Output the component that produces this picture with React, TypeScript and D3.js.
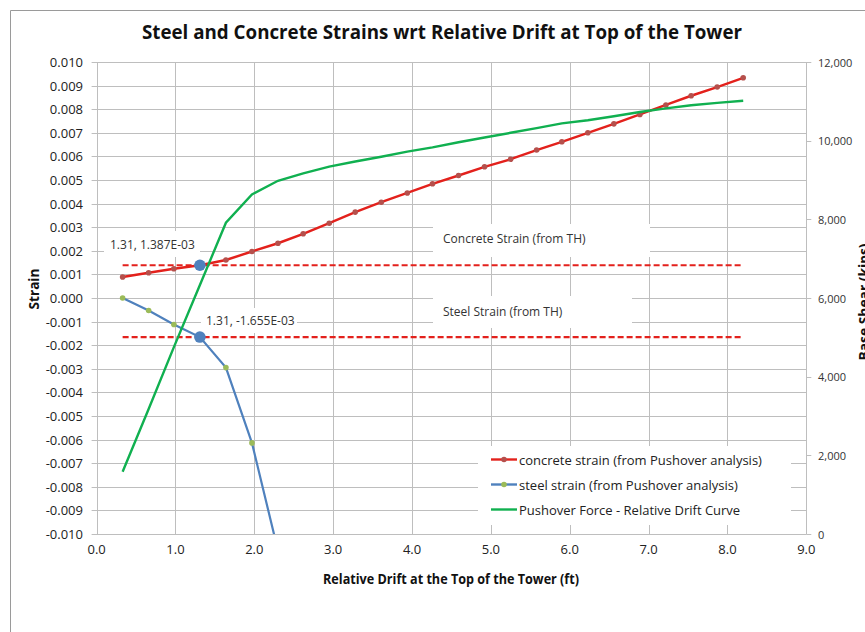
import React from 'react';
import * as d3 from 'd3';

// ---- data ----
const DRIFT = [0.33, 0.66, 0.98, 1.31, 1.64, 1.97, 2.30, 2.62, 2.95, 3.28, 3.61, 3.94, 4.26, 4.59, 4.92, 5.25, 5.58, 5.90, 6.23, 6.56, 6.89, 7.22, 7.54, 7.87, 8.20];
const CONCRETE_STRAIN = [0.00089, 0.00107, 0.00124, 0.001387, 0.00161, 0.00197, 0.00232, 0.00272, 0.00317, 0.00364, 0.00406, 0.00445, 0.00484, 0.00519, 0.00556, 0.00588, 0.00627, 0.00662, 0.00700, 0.00738, 0.00778, 0.00818, 0.00857, 0.00894, 0.00933];
const STEEL_DRIFT = [0.33, 0.66, 0.98, 1.31, 1.64, 1.97, 2.30];
const STEEL_STRAIN = [0.0, -0.00053, -0.00112, -0.001655, -0.00295, -0.00614, -0.0107];
const PUSHOVER_FORCE = [1584, 3180, 4750, 6330, 7914, 8635, 8981, 9170, 9340, 9470, 9590, 9720, 9830, 9960, 10080, 10200, 10320, 10440, 10520, 10620, 10730, 10820, 10900, 10960, 11015];
const TH_DRIFT = [0.33, 8.20];
const CONCRETE_TH = 0.001387;
const STEEL_TH = -0.001655;
const HIGHLIGHT_DRIFT = 1.31;
const X_TICKS = [0, 1, 2, 3, 4, 5, 6, 7, 8, 9];
const STRAIN_TICKS = [-0.010, -0.009, -0.008, -0.007, -0.006, -0.005, -0.004, -0.003, -0.002, -0.001, 0.000, 0.001, 0.002, 0.003, 0.004, 0.005, 0.006, 0.007, 0.008, 0.009, 0.010];
const SHEAR_TICKS = [0, 2000, 4000, 6000, 8000, 10000, 12000];
const LEGEND_LABELS = ['concrete strain (from Pushover analysis)', 'steel strain (from Pushover analysis)', 'Pushover Force - Relative Drift Curve'];

const FONT = "'Open Sans', 'Noto Sans', sans-serif";
const BOLD_FONT = "'Liberation Sans Narrow', 'Open Sans', sans-serif";

export default function App() {
  const W = 865, H = 632;
  const L = 96.6, R = 806.3, T = 62, B = 534;
  const x = d3.scaleLinear().domain([0, 9]).range([L, R]);
  const yL = d3.scaleLinear().domain([-0.01, 0.01]).range([B, T]);
  const yR = d3.scaleLinear().domain([0, 12000]).range([B, T]);

  const fmtStrain = (v: number) => (v < -1e-9 ? '-' : '') + Math.abs(v).toFixed(3);
  const fmtShear = d3.format(',');

  const lineL = d3.line<[number, number]>().x(d => x(d[0])).y(d => yL(d[1]));
  const lineR = d3.line<[number, number]>().x(d => x(d[0])).y(d => yR(d[1]));

  const concrete = DRIFT.map((d, i) => [d, CONCRETE_STRAIN[i]] as [number, number]);
  const steel = STEEL_DRIFT.map((d, i) => [d, STEEL_STRAIN[i]] as [number, number]);
  const push = DRIFT.map((d, i) => [d, PUSHOVER_FORCE[i]] as [number, number]);

  const grid = '#BEBEBE';
  const crisp = (v: number) => Math.round(v) + 0.5;

  const legendX = 478, legendY = 446;
  const legendColors = [
    { line: '#E3211C', marker: '#B5504C' },
    { line: '#4F81BD', marker: '#9BBB59' },
    { line: '#10B050', marker: null },
  ];

  return (
    <svg width={W} height={H} style={{ position: 'absolute', left: 0, top: 0, background: '#fff' }}>
      <defs>
        <clipPath id="plot">
          <rect x={L} y={T} width={R - L} height={B - T} />
        </clipPath>
      </defs>
      <rect x={0} y={0} width={W} height={H} fill="#fff" />
      {/* chart border */}
      <path d={`M10.5,${H} L10.5,10.5 L${W},10.5`} fill="none" stroke="#9A9A9A" strokeWidth={1} />

      {/* title */}
      <text x={442} y={32} textAnchor="middle" dominantBaseline="central" fontFamily={BOLD_FONT} fontWeight="bold" fontSize={19} textLength={600} lengthAdjust="spacingAndGlyphs" fill="#111">
        Steel and Concrete Strains wrt Relative Drift at Top of the Tower
      </text>

      {/* horizontal gridlines */}
      {STRAIN_TICKS.map((t, i) => (
        <line key={'hg' + i} x1={L - 5} x2={R} y1={crisp(yL(t))} y2={crisp(yL(t))} stroke={grid} strokeWidth={1} />
      ))}
      {/* vertical gridlines */}
      {X_TICKS.map((t, i) => (
        <line key={'vg' + i} x1={crisp(x(t))} x2={crisp(x(t))} y1={T} y2={B} stroke={grid} strokeWidth={1} />
      ))}
      {/* right axis ticks */}
      {SHEAR_TICKS.map((t, i) => (
        <line key={'rt' + i} x1={R} x2={R + 5} y1={crisp(yR(t))} y2={crisp(yR(t))} stroke={grid} strokeWidth={1} />
      ))}

      {/* left tick labels */}
      {STRAIN_TICKS.map((t, i) => (
        <text key={'lt' + i} x={83} y={yL(t)} textAnchor="end" dominantBaseline="central" fontFamily={FONT} fontSize={13} fill="#222">
          {fmtStrain(t)}
        </text>
      ))}
      {/* right tick labels */}
      {SHEAR_TICKS.map((t, i) => (
        <text key={'rl' + i} x={818} y={yR(t)} textAnchor="start" dominantBaseline="central" fontFamily={FONT} fontSize={11} fill="#333">
          {fmtShear(t)}
        </text>
      ))}
      {/* x tick labels */}
      {X_TICKS.map((t, i) => (
        <text key={'xl' + i} x={x(t)} y={549} textAnchor="middle" dominantBaseline="central" fontFamily={FONT} fontSize={13} fill="#222">
          {t.toFixed(1)}
        </text>
      ))}

      {/* axis titles */}
      <text x={451} y={578} textAnchor="middle" dominantBaseline="central" fontFamily={BOLD_FONT} fontWeight="bold" fontSize={14} textLength={256} lengthAdjust="spacingAndGlyphs" fill="#111">
        Relative Drift at the Top of the Tower (ft)
      </text>
      <text transform={`translate(33,289) rotate(-90)`} textAnchor="middle" dominantBaseline="central" fontFamily={BOLD_FONT} fontWeight="bold" fontSize={14} textLength={41} lengthAdjust="spacingAndGlyphs" fill="#111">
        Strain
      </text>
      <text transform={`translate(863,302) rotate(-90)`} textAnchor="middle" dominantBaseline="central" fontFamily={BOLD_FONT} fontWeight="bold" fontSize={14} textLength={117} lengthAdjust="spacingAndGlyphs" fill="#111">
        Base Shear (kips)
      </text>

      {/* annotation boxes */}
      <rect x={104} y={231} width={96} height={26} fill="#fff" />
      <text x={110} y={244} dominantBaseline="central" fontFamily={FONT} fontSize={12} fill="#333">
        {`${HIGHLIGHT_DRIFT.toFixed(2)}, 1.387E-03`}
      </text>
      <rect x={201} y={308} width={96} height={25} fill="#fff" />
      <text x={206} y={320.5} dominantBaseline="central" fontFamily={FONT} fontSize={12} fill="#333">
        {`${HIGHLIGHT_DRIFT.toFixed(2)}, -1.655E-03`}
      </text>
      <rect x={433} y={224} width={217} height={33} fill="#fff" />
      <text x={443} y={238.5} dominantBaseline="central" fontFamily={FONT} fontSize={12} fill="#333">
        Concrete Strain (from TH)
      </text>
      <rect x={433} y={296} width={199} height={32} fill="#fff" />
      <text x={443} y={311.5} dominantBaseline="central" fontFamily={FONT} fontSize={12} fill="#333">
        Steel Strain (from TH)
      </text>

      {/* axes lines */}
      <line x1={crisp(L)} x2={crisp(L)} y1={T} y2={B} stroke={grid} strokeWidth={1} />
      <line x1={crisp(R)} x2={crisp(R)} y1={T} y2={B} stroke={grid} strokeWidth={1} />
      <line x1={L} x2={R} y1={crisp(B)} y2={crisp(B)} stroke={grid} strokeWidth={1} />

      <g clipPath="url(#plot)">
        {/* TH dashed lines */}
        <line x1={x(TH_DRIFT[0])} x2={x(TH_DRIFT[1])} y1={yL(CONCRETE_TH)} y2={yL(CONCRETE_TH)} stroke="#E3211C" strokeWidth={2.2} strokeDasharray="6,3" />
        <line x1={x(TH_DRIFT[0])} x2={x(TH_DRIFT[1])} y1={yL(STEEL_TH)} y2={yL(STEEL_TH)} stroke="#E3211C" strokeWidth={2.2} strokeDasharray="6,3" />

        {/* concrete strain */}
        <path d={lineL(concrete) || ''} fill="none" stroke="#E3211C" strokeWidth={2.4} />
        {concrete.map((d, i) => (
          <circle key={'cm' + i} cx={x(d[0])} cy={yL(d[1])} r={2.8} fill="#B5504C" />
        ))}
        {/* steel strain */}
        <path d={lineL(steel) || ''} fill="none" stroke="#4F81BD" strokeWidth={2.2} />
        {steel.map((d, i) => (
          <circle key={'sm' + i} cx={x(d[0])} cy={yL(d[1])} r={2.8} fill="#9BBB59" />
        ))}
        {/* highlighted points */}
        <circle cx={x(HIGHLIGHT_DRIFT)} cy={yL(CONCRETE_TH)} r={5.8} fill="#4F81BD" />
        <circle cx={x(HIGHLIGHT_DRIFT)} cy={yL(STEEL_TH)} r={5.8} fill="#4F81BD" />
        {/* pushover */}
        <path d={lineR(push) || ''} fill="none" stroke="#10B050" strokeWidth={2.4} />
      </g>

      {/* legend */}
      <rect x={legendX} y={legendY} width={313} height={79} fill="#fff" />
      {LEGEND_LABELS.map((lab, i) => {
        const cy = 459.5 + i * 25;
        const c = legendColors[i];
        return (
          <g key={'lg' + i}>
            <line x1={491} x2={517} y1={cy} y2={cy} stroke={c.line} strokeWidth={2.4} />
            {c.marker && <circle cx={504} cy={cy} r={2.8} fill={c.marker} />}
            <text x={519} y={cy} dominantBaseline="central" fontFamily={FONT} fontSize={13} fill="#222">
              {lab}
            </text>
          </g>
        );
      })}
    </svg>
  );
}
